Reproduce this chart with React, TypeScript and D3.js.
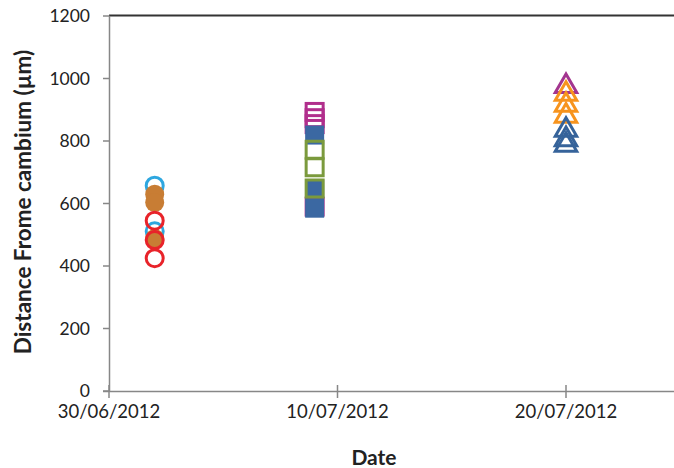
import React from "react";
import * as d3 from "d3";

const W = 674;
const H = 468;

const yTicks = [0, 200, 400, 600, 800, 1000, 1200];
const xTickDates = ["30/06/2012", "10/07/2012", "20/07/2012"];

const circleDate = "02/07/2012";
const squareDate = "09/07/2012";
const triangleDate = "20/07/2012";

const lightBlueCircles = [657, 511];
const brownCircles = [630, 603, 488];
const redCircles = [545, 483, 425];

const magentaSquares = [893, 873, 854, 590];
const blueSquares = [819, 646, 585];
const greenSquares = [772, 716, 648];

const magentaTriangles = [975];
const orangeTriangles = [950, 915, 880];
const blueTriangles = [835, 805, 787];

const parse = d3.timeParse("%d/%m/%Y");
const fmt = d3.timeFormat("%d/%m/%Y");

const x = d3
  .scaleTime()
  .domain([parse("30/06/2012")!, parse("25/07/2012")!])
  .range([109, 109 + 25 * 22.85]);
const y = d3.scaleLinear().domain([0, 1200]).range([391, 16]);

const FONT = "Lato, 'Open Sans', 'DejaVu Sans', sans-serif";

function Circles({ vals, date, color, filled }: { vals: number[]; date: string; color: string; filled: boolean }) {
  const cx = x(parse(date)!);
  return (
    <g>
      {vals.map((v, i) => (
        <circle
          key={i}
          cx={cx}
          cy={y(v)}
          r={filled ? 9.5 : 8.5}
          fill={filled ? color : "none"}
          stroke={filled ? "none" : color}
          strokeWidth={3}
        />
      ))}
    </g>
  );
}

function Squares({ vals, date, color, filled }: { vals: number[]; date: string; color: string; filled: boolean }) {
  const cx = x(parse(date)!);
  const s = filled ? 19 : 17;
  return (
    <g>
      {vals.map((v, i) => (
        <rect
          key={i}
          x={cx - s / 2}
          y={y(v) - s / 2}
          width={s}
          height={s}
          fill={filled ? color : "none"}
          stroke={filled ? "none" : color}
          strokeWidth={3}
        />
      ))}
    </g>
  );
}

function Triangles({ vals, date, color }: { vals: number[]; date: string; color: string }) {
  const cx = x(parse(date)!);
  const sym = d3.symbol().type(d3.symbolTriangle).size(200);
  return (
    <g>
      {vals.map((v, i) => (
        <path
          key={i}
          d={sym()!}
          transform={`translate(${cx},${y(v)})`}
          fill="none"
          stroke={color}
          strokeWidth={3}
          strokeLinejoin="miter"
        />
      ))}
    </g>
  );
}

export default function App() {
  const xTicks = xTickDates.map((d) => parse(d)!);
  return (
    <svg
      width={W}
      height={H}
      style={{ position: "absolute", left: 0, top: 0, background: "#fff" }}
      fontFamily={FONT}
    >
      {/* top border */}
      <line x1={109} x2={W} y1={15.5} y2={15.5} stroke="#333" strokeWidth={2} />
      {/* y axis */}
      <line x1={109.5} x2={109.5} y1={16} y2={391} stroke="#878787" strokeWidth={1.5} />
      {yTicks.map((t) => (
        <g key={t}>
          <line x1={103} x2={109.5} y1={y(t)} y2={y(t)} stroke="#878787" strokeWidth={1.5} />
          <text x={90} y={y(t)} dy="0.36em" textAnchor="end" fontSize={17.5} fill="#222">
            {t}
          </text>
        </g>
      ))}
      {/* x axis */}
      <line x1={103} x2={W} y1={391.5} y2={391.5} stroke="#878787" strokeWidth={1.5} />
      {xTicks.map((t, i) => (
        <g key={i}>
          <line x1={x(t)} x2={x(t)} y1={385} y2={398} stroke="#878787" strokeWidth={1.5} />
          <text x={x(t)} y={418} textAnchor="middle" fontSize={18.5} fill="#222">
            {fmt(t)}
          </text>
        </g>
      ))}
      <text x={374} y={465} textAnchor="middle" fontSize={21} fontWeight="bold" fill="#222">
        Date
      </text>
      <text
        transform={`translate(31,${202}) rotate(-90)`}
        textAnchor="middle"
        fontSize={22.5}
        fontWeight="bold"
        fill="#222"
      >
        Distance Frome cambium (µm)
      </text>

      <Circles vals={lightBlueCircles} date={circleDate} color="#2ea7e0" filled={false} />
      <Circles vals={brownCircles} date={circleDate} color="#c87d34" filled={true} />
      <Circles vals={redCircles} date={circleDate} color="#e8232a" filled={false} />

      <Squares vals={magentaSquares} date={squareDate} color="#b12e8c" filled={false} />
      <Squares vals={blueSquares} date={squareDate} color="#3b68a2" filled={true} />
      <Squares vals={greenSquares} date={squareDate} color="#7b9a3d" filled={false} />

      <Triangles vals={magentaTriangles} date={triangleDate} color="#a3358f" />
      <Triangles vals={orangeTriangles} date={triangleDate} color="#f7941e" />
      <Triangles vals={blueTriangles} date={triangleDate} color="#36639a" />
    </svg>
  );
}
